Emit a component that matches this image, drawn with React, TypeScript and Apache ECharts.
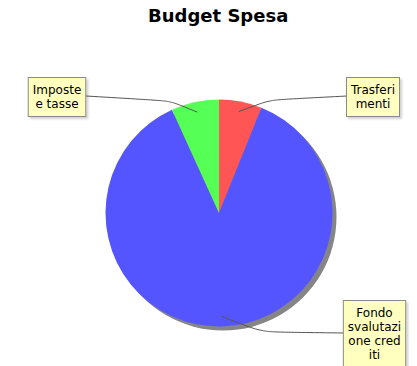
import React, { useEffect, useRef } from 'react';
import * as echarts from 'echarts';

const titleText = 'Budget Spesa';
const categories = ['Trasferimenti', 'Fondo svalutazione crediti', 'Imposte e tasse'];
const values = [6.1, 87.1, 6.8];
const labelTexts = ['Trasferi\nmenti', 'Fondo\nsvalutazi\none cred\niti', 'Imposte\ne tasse'];
const colors = ['#ff5555', '#5555ff', '#55ff55'];

// layout constants
const CX = 219;
const CY = 213;
const R = 113.5;
const labelBoxes = [
  { x: 373, y: 97, edgeX: 347, elbow: [270, 100] },
  { x: 374.5, y: 334, edgeX: 344, elbow: [262, 332] },
  { x: 57, y: 97, edgeX: 86, elbow: [170, 101] },
];

function linkPoint(i: number): number[] {
  const total = values.reduce((a, b) => a + b, 0);
  let cum = 0;
  for (let k = 0; k < i; k++) cum += values[k];
  const th = (2 * Math.PI * (cum + values[i] / 2)) / total;
  const r = R * 0.91;
  return [CX + r * Math.sin(th), CY - r * Math.cos(th)];
}

export default function App() {
  const ref = useRef<HTMLDivElement>(null);
  useEffect(() => {
    if (!ref.current) return;
    const chart = echarts.init(ref.current, undefined, { renderer: 'svg' });
    const pieData = categories.map((c, i) => ({ name: c, value: values[i] }));
    chart.setOption({
      animation: false,
      backgroundColor: '#ffffff',
      title: {
        text: titleText,
        left: 148,
        top: 6,
        padding: 0,
        textStyle: { fontFamily: 'DejaVu Sans', fontWeight: 'bold', fontSize: 18, color: '#000' },
      },
      series: [
        {
          type: 'pie',
          silent: true,
          z: 1,
          center: [CX + 4, CY + 4],
          radius: R,
          data: [{ value: 1, name: 'shadow' }],
          itemStyle: { color: '#858585', borderWidth: 0 },
          label: { show: false },
          labelLine: { show: false },
          emphasis: { disabled: true },
        },
        {
          type: 'pie',
          z: 2,
          center: [CX, CY],
          radius: R,
          startAngle: 90,
          clockwise: true,
          data: pieData.map((d, i) => ({ ...d, itemStyle: { color: colors[i] } })),
          itemStyle: { borderWidth: 0 },
          emphasis: { disabled: true },
          label: { show: false },
          labelLine: { show: false },
        },
        {
          type: 'pie',
          z: 3,
          silent: true,
          center: [CX, CY],
          radius: R,
          startAngle: 90,
          clockwise: true,
          avoidLabelOverlap: false,
          data: pieData,
          itemStyle: { color: 'rgba(0,0,0,0)', borderWidth: 0 },
          emphasis: { disabled: true },
          label: {
            show: true,
            position: 'outside',
            formatter: (p: any) => labelTexts[p.dataIndex],
            fontFamily: 'DejaVu Sans',
            fontSize: 12,
            lineHeight: 14,
            color: '#000',
            align: 'center',
            backgroundColor: '#ffffc0',
            borderColor: '#8a8a8a',
            borderWidth: 1,
            padding: [5, 4, 5, 4],
            shadowColor: 'rgba(0,0,0,0.18)',
            shadowOffsetX: 2,
            shadowOffsetY: 2,
            shadowBlur: 2,
          },
          labelLine: {
            show: true,
            smooth: 0.2,
            lineStyle: { color: '#555', width: 1 },
          },
          labelLayout: (params: any) => {
            const i = params.dataIndex;
            const b = labelBoxes[i];
            if (!b) return {};
            return {
              x: b.x,
              y: b.y,
              align: 'center',
              verticalAlign: 'middle',
              hideOverlap: false,
              labelLinePoints: [linkPoint(i), b.elbow, [b.edgeX, b.y - 1]],
            };
          },
        },
      ],
    });
    return () => chart.dispose();
  }, []);
  return (
    <div
      ref={ref}
      style={{ position: 'absolute', left: 0, top: 0, width: 417, height: 366 }}
    />
  );
}
